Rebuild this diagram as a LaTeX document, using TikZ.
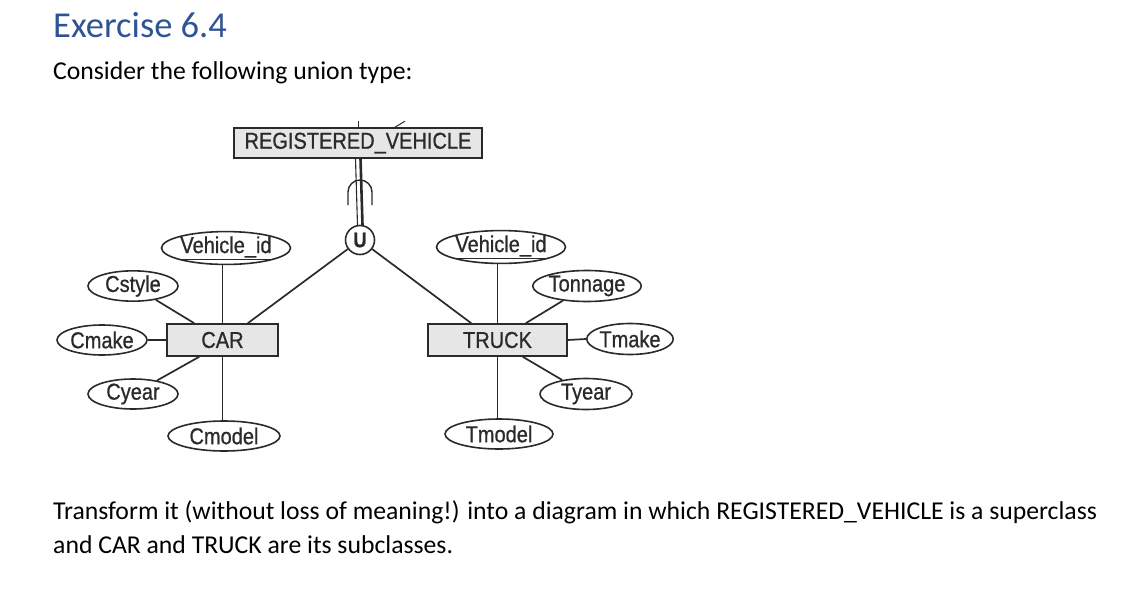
\documentclass[tikz,border=0pt]{standalone}
\usepackage{fontspec}
\setmainfont{Carlito}
\newfontfamily\diagfont[FakeStretch=0.87,FakeBold=0.8]{Liberation Sans}
\usetikzlibrary{shapes.geometric}
\definecolor{headblue}{HTML}{2F5496}
\definecolor{boxfill}{HTML}{E6E6E6}
\definecolor{ink}{HTML}{2A2A2A}
\tikzset{
  ent/.style={draw=ink, line width=1.6pt, fill=boxfill, rectangle, inner sep=0pt, font=\diagfont\fontsize{23}{25}\selectfont, text=ink},
  attr/.style={draw=ink, line width=1.6pt, ellipse, inner sep=0pt, font=\diagfont\fontsize{23}{25}\selectfont, text=ink},
  conn/.style={draw=ink, line width=1.7pt},
  bodytext/.style={anchor=base west, inner sep=0pt, font=\fontsize{25.7}{30}\selectfont}
}
\begin{document}
\begin{tikzpicture}[x=1pt, y=-1pt]
\useasboundingbox (0,0) rectangle (1123,599);
% texts
\node[anchor=base west, inner sep=0pt, text=headblue, font=\fontsize{36.5}{40}\selectfont] (title) at (53,38) {Exercise 6.4};
\node[bodytext] (intro) at (53,80) {Consider the following union type:};
\node[bodytext] (task1) at (53,519) {Transform it (without loss of meaning!) into a diagram in which REGISTERED\_VEHICLE is a superclass};
\node[bodytext] (task2) at (53,553) {and CAR and TRUCK are its subclasses.};
% entities
\node[ent, minimum width=248pt, minimum height=30pt] (rv) at (358,143) {REGISTERED\_VEHICLE};
\node[ent, minimum width=111pt, minimum height=32pt] (car) at (222.5,340) {CAR};
\node[ent, minimum width=139pt, minimum height=32pt] (truck) at (497.5,340) {TRUCK};
% union circle
\node[draw=ink, line width=1.6pt, circle, minimum size=29pt, inner sep=0pt, font=\diagfont\bfseries\fontsize{21}{22}\selectfont, text=ink] (u) at (360,240) {U};
% car attributes
\node[attr, minimum width=112pt, minimum height=30pt] (cvid) at (226,248) {\underline{Vehicle\_id}};
\node[attr, minimum width=90pt, minimum height=30pt] (cstyle) at (133,286) {Cstyle};
\node[attr, minimum width=90pt, minimum height=30pt] (cmake) at (102,340) {Cmake};
\node[attr, minimum width=90pt, minimum height=30pt] (cyear) at (133,394) {Cyear};
\node[attr, minimum width=112pt, minimum height=30pt] (cmodel) at (224,436) {Cmodel};
% truck attributes
\node[attr, minimum width=116pt, minimum height=30pt] (tvid) at (501,247) {\underline{Vehicle\_id}};
\node[attr, minimum width=104pt, minimum height=31pt] (tonnage) at (587,286) {Tonnage};
\node[attr, minimum width=86pt, minimum height=31pt] (tmake) at (630,339) {Tmake};
\node[attr, minimum width=92pt, minimum height=31pt] (tyear) at (586,394) {Tyear};
\node[attr, minimum width=108pt, minimum height=30pt] (tmodel) at (499,434) {Tmodel};
% stubs above the superclass box
\draw[conn, line width=1pt] (rv.north) -- ++(0,-6);
\draw[conn, line width=1pt] ([xshift=37pt]rv.north) -- ++(10,-6);
% double line to the union circle
\draw[conn, line width=1.1pt] ([xshift=-2.5pt]rv.south) -- ([xshift=-2.5pt,yshift=-0.3pt]u.north);
\draw[conn, line width=2.6pt] ([xshift=2.5pt]rv.south) -- ([xshift=2.5pt,yshift=-0.3pt]u.north);
% subset symbol
\draw[conn, line width=1.4pt] (348,205) -- (348,192) arc[start angle=180, end angle=0, radius=12pt] -- (372,205);
% union to subclasses
\draw[conn] (u) -- ([xshift=-31pt]car.north east);
\draw[conn] (u) -- ([xshift=44pt]truck.north west);
% car connectors
\draw[conn] (car.north) -- (car.north |- cvid.south);
\draw[conn] (cstyle) -- ([xshift=28pt]car.north west);
\draw[conn] (cmake.east) -- (car.west);
\draw[conn] (cyear) -- ([xshift=33pt]car.south west);
\draw[conn] (car.south) -- (car.south |- cmodel.north);
% truck connectors
\draw[conn] (truck.north) -- (truck.north |- tvid.south);
\draw[conn] (tonnage) -- ([xshift=-42pt]truck.north east);
\draw[conn] (truck.east) -- (tmake.west);
\draw[conn] (tyear) -- ([xshift=-45pt]truck.south east);
\draw[conn] (truck.south) -- (truck.south |- tmodel.north);
\end{tikzpicture}
\end{document}
